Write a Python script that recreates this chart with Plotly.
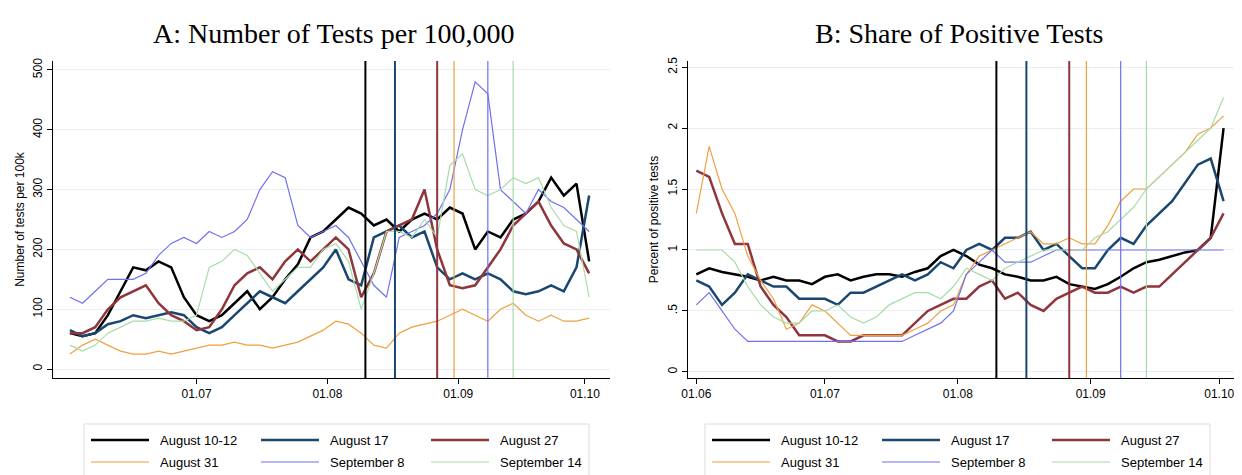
import pandas as pd
import plotly.graph_objects as go
from plotly.subplots import make_subplots

dates = pd.date_range("2020-06-01", "2020-10-02", freq="3D")
names = ["August 10-12", "August 17", "August 27", "August 31", "September 8", "September 14"]
colors = ["#000000", "#1a476f", "#90353b", "#f0a040", "#7070f0", "#a8dca8"]
vdates = ["2020-08-10", "2020-08-17", "2020-08-27", "2020-08-31", "2020-09-08", "2020-09-14"]

tests = [
 [60,55,60,90,130,170,165,180,170,120,90,80,90,110,130,100,120,150,175,220,230,250,270,260,240,250,230,250,260,250,270,260,200,230,220,250,260,280,320,290,310,180],
 [65,55,60,75,80,90,85,90,95,90,70,60,70,90,110,130,120,110,130,150,170,200,150,140,220,230,240,220,230,170,150,160,150,160,150,130,125,130,140,130,170,290],
 [60,60,70,100,120,130,140,110,90,80,65,70,100,140,160,170,150,180,200,180,200,220,200,120,160,230,240,250,300,200,140,135,140,170,200,240,260,280,240,210,200,160],
 [25,40,50,40,30,25,25,30,25,30,35,40,40,45,40,40,35,40,45,55,65,80,75,60,40,35,60,70,75,80,90,100,90,80,100,110,90,80,90,80,80,85],
 [120,110,130,150,150,150,160,190,210,220,210,230,220,230,250,300,330,320,240,220,230,240,220,180,140,120,220,230,240,260,300,400,480,460,300,280,260,300,280,270,250,230],
 [40,30,40,60,70,80,80,85,80,80,90,170,180,200,190,160,130,150,170,170,200,210,180,100,160,230,230,220,250,220,340,360,300,290,300,320,310,320,270,240,230,120],
]
share = [
 [0.8,0.85,0.82,0.8,0.78,0.75,0.78,0.75,0.75,0.72,0.78,0.8,0.75,0.78,0.8,0.8,0.78,0.82,0.85,0.95,1.0,0.95,0.88,0.85,0.8,0.78,0.75,0.75,0.78,0.72,0.7,0.68,0.72,0.78,0.85,0.9,0.92,0.95,0.98,1.0,1.1,2.0],
 [0.75,0.7,0.55,0.65,0.8,0.75,0.7,0.7,0.6,0.6,0.6,0.55,0.65,0.65,0.7,0.75,0.8,0.75,0.8,0.9,0.85,1.0,1.05,1.0,1.1,1.1,1.15,1.0,1.05,0.95,0.85,0.85,1.0,1.1,1.05,1.2,1.3,1.4,1.55,1.7,1.75,1.4],
 [1.65,1.6,1.3,1.05,1.05,0.7,0.55,0.45,0.3,0.3,0.3,0.25,0.25,0.3,0.3,0.3,0.3,0.4,0.5,0.55,0.6,0.6,0.7,0.75,0.6,0.65,0.55,0.5,0.6,0.65,0.7,0.65,0.65,0.7,0.65,0.7,0.7,0.8,0.9,1.0,1.1,1.3],
 [1.3,1.85,1.5,1.3,0.95,0.75,0.6,0.35,0.4,0.55,0.5,0.4,0.3,0.3,0.3,0.3,0.3,0.35,0.4,0.5,0.55,0.8,0.95,1.0,1.05,1.1,1.15,1.05,1.05,1.1,1.05,1.05,1.2,1.4,1.5,1.5,1.6,1.7,1.8,1.95,2.0,2.1],
 [0.55,0.65,0.5,0.35,0.25,0.25,0.25,0.25,0.25,0.25,0.25,0.25,0.25,0.25,0.25,0.25,0.25,0.3,0.35,0.4,0.5,0.8,0.9,1.0,0.9,0.9,0.9,0.95,1.0,1.0,1.0,1.0,1.0,1.0,1.0,1.0,1.0,1.0,1.0,1.0,1.0,1.0],
 [1.0,1.0,1.0,0.9,0.7,0.55,0.45,0.4,0.4,0.5,0.5,0.55,0.45,0.4,0.45,0.55,0.6,0.65,0.65,0.6,0.7,0.85,0.8,0.75,0.85,0.9,0.95,1.0,1.0,1.0,1.0,1.1,1.15,1.25,1.35,1.5,1.6,1.7,1.8,1.9,2.0,2.25],
]
widths = [2.5, 2.5, 2.5, 1.2, 1.2, 1.2]
ticksA = ["2020-07-01", "2020-08-01", "2020-09-01", "2020-10-01"]
ticksB = ["2020-06-01"] + ticksA

W, H, L, R, T, B = 1242, 475, 45, 5, 53, 105
PW, PH = W - L - R, H - T - B
def px(x): return (x - L) / PW
def py(y): return (H - B - y + 9) / PH

fig = make_subplots(rows=1, cols=2, horizontal_spacing=0.065)
for i in range(6):
    fig.add_trace(go.Scatter(x=dates, y=tests[i], mode="lines", name=names[i], showlegend=False,
        line=dict(color=colors[i], width=widths[i])), row=1, col=1)
    fig.add_trace(go.Scatter(x=dates, y=share[i], mode="lines", name=names[i], showlegend=False,
        line=dict(color=colors[i], width=widths[i])), row=1, col=2)
for c in (1, 2):
    for j, (d, col) in enumerate(zip(vdates, colors)):
        fig.add_vline(x=pd.Timestamp(d).timestamp() * 1000, line=dict(color=col, width=2 if j < 3 else 1.2), row=1, col=c)

# manual legends (one box per panel)
for x0 in (76, 697):
    fig.add_shape(type="rect", xref="paper", yref="paper", x0=px(x0), x1=px(x0 + 505),
                  y0=py(482), y1=py(425), line=dict(color="#dddddd", width=1))
    for i in range(6):
        cx = x0 + 7 + (i % 3) * 170
        cy = 441 if i < 3 else 463
        fig.add_shape(type="line", xref="paper", yref="paper", x0=px(cx), x1=px(cx + 58),
                      y0=py(cy), y1=py(cy), line=dict(color=colors[i], width=widths[i]))
        fig.add_annotation(text=names[i], x=px(cx + 67), y=py(cy), xref="paper", yref="paper",
                           xanchor="left", yanchor="middle", showarrow=False,
                           font=dict(family="Liberation Sans", size=13, color="black"))

ax = dict(showline=True, linecolor="black", ticks="outside", tickcolor="black",
          tickfont=dict(family="Liberation Sans", size=12, color="black"))
fig.update_xaxes(**ax, tickformat="%d.%m", showgrid=False)
fig.update_xaxes(range=["2020-05-28", "2020-10-07"], tickvals=ticksA, row=1, col=1)
fig.update_xaxes(range=["2020-05-30", "2020-10-07"], tickvals=ticksB, row=1, col=2)
fig.update_yaxes(**ax, tickangle=-90, showgrid=True, gridcolor="#e8eef3", zeroline=False)
fig.update_yaxes(range=[-15, 515], tickvals=[0,100,200,300,400,500],
    title=dict(text="Number of tests per 100k", font=dict(size=12, family="Liberation Sans", color="black"), standoff=4), row=1, col=1)
fig.update_yaxes(range=[-0.05, 2.55], tickvals=[0,0.5,1,1.5,2,2.5], ticktext=["0",".5","1","1.5","2","2.5"],
    title=dict(text="Percent of positive tests", font=dict(size=12, family="Liberation Sans", color="black"), standoff=4), row=1, col=2)

fig.add_annotation(text="A: Number of Tests per 100,000", x=0.235, y=1.03, xref="paper", yref="paper", xanchor="center", yanchor="bottom", showarrow=False, font=dict(family="Liberation Serif", size=28, color="black"))
fig.add_annotation(text="B: Share of Positive Tests", x=0.76, y=1.03, xref="paper", yref="paper", xanchor="center", yanchor="bottom", showarrow=False, font=dict(family="Liberation Serif", size=28, color="black"))
fig.update_layout(width=W, height=H, plot_bgcolor="white", paper_bgcolor="white",
    margin=dict(l=L, r=R, t=T, b=B), showlegend=False)
fig.write_html("out.html")
